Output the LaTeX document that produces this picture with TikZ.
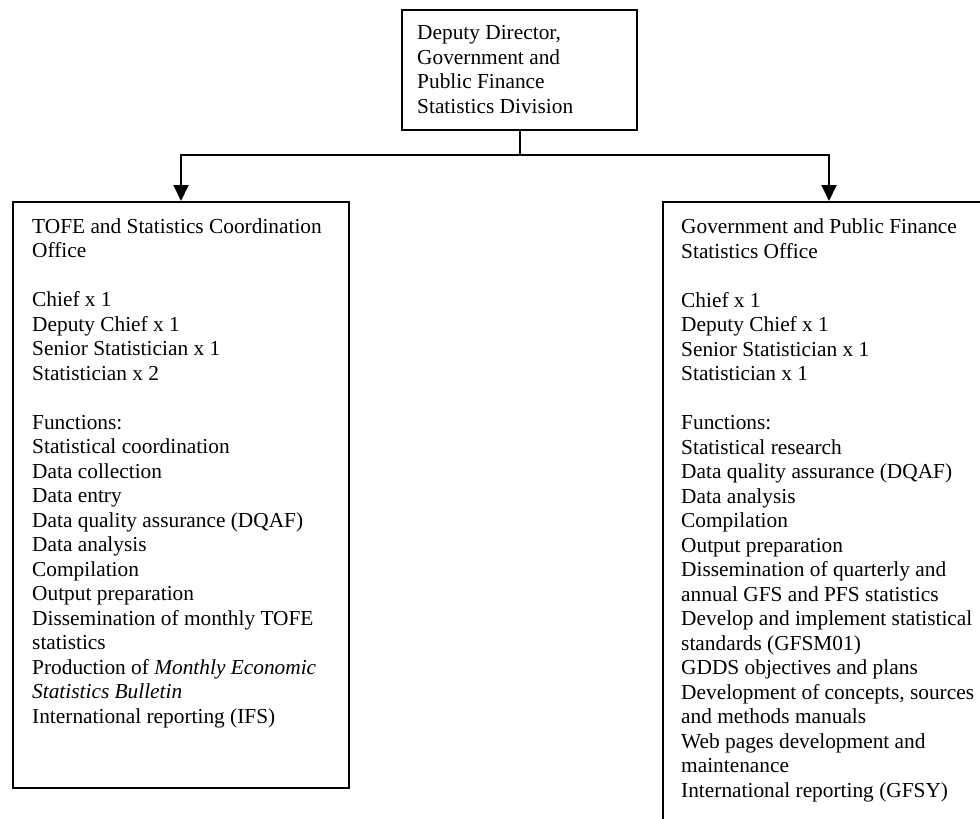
\documentclass[tikz,border=0pt]{standalone}
\usepackage{fontspec}
\setmainfont{Liberation Serif}
\usetikzlibrary{arrows.meta,positioning}

\tikzset{
  unitbox/.style={draw,line width=2pt,minimum width=#1,inner sep=0pt,anchor=north west},
  unittext/.style={anchor=base west,align=left,inner sep=0pt,
                   font=\fontsize{21.35}{24.5}\selectfont},
  link/.style={line width=2pt},
  linkarrow/.style={line width=2pt,-{Triangle[length=16pt,width=15pt]}}
}

\begin{document}
\begin{tikzpicture}[x=1pt,y=-1pt]
\clip (0,0) rectangle (980,819);
\fill[white] (0,0) rectangle (980,819);
% boxes
\node[unitbox=235pt,minimum height=120pt] (dir) at (401,9) {};
\node[unitbox=336pt,minimum height=586pt] (tofe) at (12,201) {};
\node[unitbox=332pt,minimum height=700pt] (gpfs) at (662,201) {};
% texts (placed by the baseline of their last line)
\node[unittext] (dirtxt) at (417,113) {Deputy Director,\\Government and\\Public Finance\\Statistics Division};
\node[unittext] (tofetxt) at (32,723) {TOFE and Statistics Coordination\\Office\\[24.5pt]
Chief x 1\\Deputy Chief x 1\\Senior Statistician x 1\\Statistician x 2\\[24.5pt]
Functions:\\Statistical coordination\\Data collection\\Data entry\\Data quality assurance (DQAF)\\
Data analysis\\Compilation\\Output preparation\\Dissemination of monthly TOFE\\statistics\\
Production of \textit{Monthly Economic}\\\textit{Statistics Bulletin}\\International reporting (IFS)};
\node[unittext] (gpfstxt) at (681,797) {Government and Public Finance\\Statistics Office\\[24.5pt]
Chief x 1\\Deputy Chief x 1\\Senior Statistician x 1\\Statistician x 1\\[24.5pt]
Functions:\\Statistical research\\Data quality assurance (DQAF)\\Data analysis\\Compilation\\
Output preparation\\Dissemination of quarterly and\\annual GFS and PFS statistics\\
Develop and implement statistical\\standards (GFSM01)\\GDDS objectives and plans\\
Development of concepts, sources\\and methods manuals\\Web pages development and\\
maintenance\\International reporting (GFSY)};
% connectors
\draw[link] (dir.south) -- ++(0,24) coordinate (split);
\draw[linkarrow] (split) -| (tofe.north);
\draw[linkarrow] (split) -| (gpfs.north);
\end{tikzpicture}
\end{document}
